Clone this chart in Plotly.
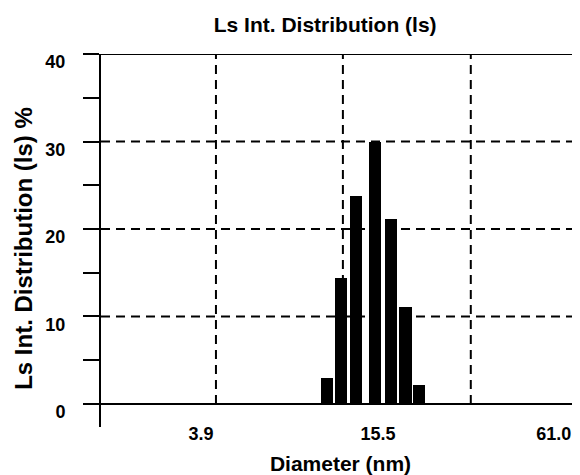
import numpy as np
import plotly.graph_objects as go

# ---- data ----
diameters_nm = [10.4, 11.6, 13.1, 15.1, 17.1, 19.2, 21.3]
distribution_pct = [3.0, 14.4, 23.8, 30.0, 21.1, 11.1, 2.2]
x_tick_values = [3.9, 15.5, 61.0]
x_tick_labels = ["3.9", "15.5", "61.0"]
y_tick_values = [0, 10, 20, 30, 40]
y_tick_labels = ["0", "10", "20", "30", "40"]
y_grid_values = [10, 20, 30]

title_text = "Ls Int. Distribution (ls)"
x_title = "Diameter (nm)"
y_title = "Ls Int. Distribution (ls) %"

FONT = "Liberation Sans, Arial, sans-serif"
BLACK = "#000000"

log_x = np.log10(diameters_nm)
log_ticks = np.log10(x_tick_values)

fig = go.Figure()
fig.add_trace(go.Bar(
    x=log_x, y=distribution_pct,
    width=0.041,
    marker=dict(color=BLACK, line=dict(width=0)),
    hoverinfo="skip",
))

shapes = []
# horizontal dashed gridlines
for v in y_grid_values:
    shapes.append(dict(type="line", xref="paper", yref="y", x0=0, x1=1, y0=v, y1=v,
                       line=dict(color=BLACK, width=2, dash="9px,6px"), layer="below"))
# vertical dashed gridlines (fractions of plot width)
for f in [0.240, 0.505, 0.772]:
    shapes.append(dict(type="line", xref="paper", yref="y", x0=f, x1=f, y0=0, y1=40,
                       line=dict(color=BLACK, width=2, dash="9px,6px"), layer="below"))
# baseline at zero (extends left like a tick)
shapes.append(dict(type="line", xref="paper", yref="y", x0=-0.037, x1=1, y0=0, y1=0,
                   line=dict(color=BLACK, width=2), layer="above"))
# top border
shapes.append(dict(type="line", xref="paper", yref="y", x0=0, x1=1, y0=40, y1=40,
                   line=dict(color=BLACK, width=2), layer="above"))

# the page body adds an 8px offset, so the figure is 8px smaller on each axis
fig.update_layout(
    width=572, height=467,
    margin=dict(l=93, r=0, t=46, b=48),
    paper_bgcolor="white", plot_bgcolor="white",
    showlegend=False,
    shapes=shapes,
    font=dict(family=FONT, color=BLACK, size=18, weight="bold"),
    title=dict(text=title_text, x=0.468, xref="paper", xanchor="center",
               y=0.964, yref="container", yanchor="middle",
               font=dict(family=FONT, size=21, color=BLACK, weight="bold")),
    bargap=0,
    annotations=[dict(
        text=y_title, textangle=-90, showarrow=False,
        xref="paper", yref="paper", x=-0.161, y=0.48,
        xanchor="center", yanchor="middle",
        font=dict(family=FONT, size=24, color=BLACK, weight="bold"),
    )],
)

fig.update_xaxes(
    range=[0.2529, 1.8739],
    automargin=False,
    tickvals=list(log_ticks), ticktext=x_tick_labels,
    showgrid=False, zeroline=False, showline=False, ticks="",
    tickfont=dict(family=FONT, size=18, color=BLACK, weight="bold"),
    ticklabelstandoff=-6,
    ticklabeloverflow="allow",
    title=dict(text=x_title, standoff=20,
               font=dict(family=FONT, size=21, color=BLACK, weight="bold")),
)

fig.update_yaxes(
    range=[-2.63, 40],
    automargin=False,
    tickvals=y_tick_values, ticktext=y_tick_labels,
    showgrid=False, zeroline=False,
    showline=True, linecolor=BLACK, linewidth=2,
    ticks="outside", ticklen=16, tickwidth=2, tickcolor=BLACK,
    minor=dict(tickvals=[5, 15, 25, 35], ticks="outside", ticklen=16, tickwidth=2, tickcolor=BLACK),
    tickfont=dict(family=FONT, size=18, color=BLACK, weight="bold"),
    ticklabelstandoff=14,
    ticklabelshift=8,
)

fig.write_html("out.html")
